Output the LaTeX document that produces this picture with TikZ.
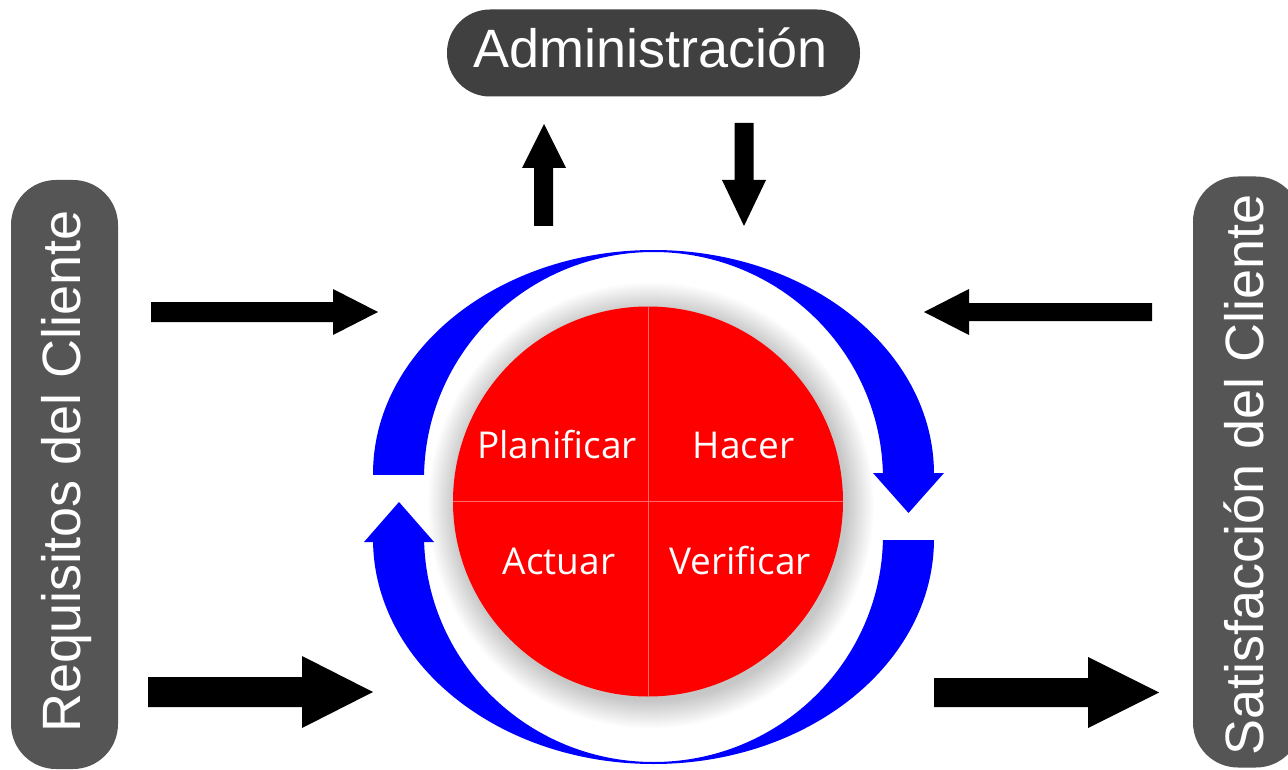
\documentclass[tikz,border=0pt]{standalone}
\usepackage{fontspec}
\setmainfont{Liberation Sans}
\newfontfamily\pdcafont{Open Sans}
\definecolor{admingray}{HTML}{404040}
\definecolor{sidegray}{HTML}{555555}
\definecolor{ringblue}{HTML}{0000FF}
\definecolor{pdcared}{HTML}{FF0000}
\definecolor{splitline}{HTML}{FF6A6A}
\begin{document}
\begin{tikzpicture}[x=1pt,y=-1pt,
  boxlabel/.style={text=white, font=\fontsize{54}{60}\selectfont, inner sep=0pt},
  sidebox/.style={fill=sidegray, rounded corners=45pt, inner sep=0pt},
  topbox/.style={fill=admingray, rounded corners=43pt, inner sep=0pt},
  pdcatext/.style={text=white, font=\pdcafont\fontsize{37}{44}\selectfont, inner sep=0pt, anchor=base},
  blockarrow/.style={fill=black, draw=none},
  ring/.style={fill=ringblue, even odd rule}]
\useasboundingbox (0,0) rectangle (1288,770);
\fill[white] (0,0) rectangle (1288,770);

% boxes
\node[topbox, minimum width=413pt, minimum height=87pt] (admin) at (653.5,53) {};
\node[boxlabel, anchor=base] (admintext) at (651,68) {Administración};
\node[sidebox, minimum width=107pt, minimum height=589pt] (req) at (64.5,474.5) {};
\node[boxlabel, rotate=90, anchor=base] (reqtext) at (80,471.5) {Requisitos del Cliente};
\node[sidebox, minimum width=108pt, minimum height=591pt] (sat) at (1247,472) {};
\node[boxlabel, rotate=90, anchor=base] (sattext) at (1263,475) {Satisfacción del Cliente};

% block arrows
\fill[blockarrow] (534,226) -- (534,168) -- (522,168) -- (544,124) -- (566,168) -- (553,168) -- (553,226) -- cycle;
\fill[blockarrow] (734.5,123) -- (753.5,123) -- (753.5,180) -- (766,180) -- (744,226) -- (722,180) -- (734.5,180) -- cycle;
\fill[blockarrow] (151,302) -- (333,302) -- (333,289) -- (378,312) -- (333,335) -- (333,322) -- (151,322) -- cycle;
\fill[blockarrow] (148,677) -- (302,677) -- (302,656) -- (373,692) -- (302,728) -- (302,707) -- (148,707) -- cycle;
\fill[blockarrow] (1152,303) -- (969,303) -- (969,289) -- (924,312) -- (969,335) -- (969,321) -- (1152,321) -- cycle;
\fill[blockarrow] (934,678) -- (1088,678) -- (1088,657) -- (1159,692.5) -- (1088,728) -- (1088,707) -- (934,707) -- cycle;

% blue ring arrows (upper: Planificar -> Hacer side, lower: Verificar -> Actuar side)
\begin{scope}
  \clip (340,230) rectangle (960,474);
  \fill[ring] (653.5,474) ellipse [x radius=280.5pt, y radius=224pt]
              (653.5,479) ellipse [x radius=229.5pt, y radius=227pt];
\end{scope}
\fill[ringblue] (873,473) -- (944,473) -- (908.5,513) -- cycle;
\begin{scope}
  \clip (340,540) rectangle (960,780);
  \fill[ring] (653.5,539) ellipse [x radius=280.5pt, y radius=225pt]
              (653.5,535) ellipse [x radius=229.5pt, y radius=227pt];
\end{scope}
\fill[ringblue] (364,542) -- (434,542) -- (399,502) -- cycle;

% soft shadow
\foreach \r in {0,...,27} {
  \fill[black, opacity=0.0075] (651,505.5) circle ({196pt+\r pt});
}

% red circle
\node[circle, fill=pdcared, minimum size=390pt, inner sep=0pt] (pdca) at (648,501.5) {};
\draw[splitline, line width=1pt] (pdca.north) -- (pdca.south);
\draw[splitline, line width=1pt] (pdca.west) -- (pdca.east);

\node[pdcatext] (plan) at (557,458) {Planificar};
\node[pdcatext] (hacer) at (743.5,458) {Hacer};
\node[pdcatext] (actuar) at (559,574) {Actuar};
\node[pdcatext] (verif) at (740,574) {Verificar};
\end{tikzpicture}
\end{document}
